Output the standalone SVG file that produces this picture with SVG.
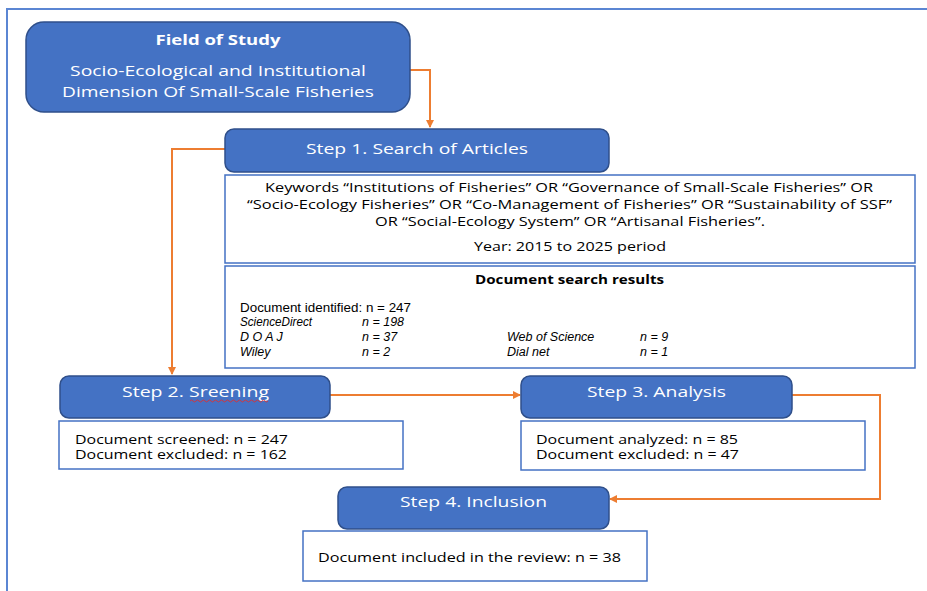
<svg xmlns="http://www.w3.org/2000/svg" width="927" height="591" viewBox="0 0 927 591">
<defs>
<marker id="ah" markerWidth="8" markerHeight="8" refX="7" refY="4" orient="auto" markerUnits="userSpaceOnUse">
<path d="M0,0 L8,4 L0,8 Z" fill="#ED7D31"/>
</marker>
<style>
.blue{fill:#4472C4;stroke:#2F4F8A;stroke-width:1.5}
.box{fill:#fff;stroke:#4472C4;stroke-width:1.5}
.wt{fill:#fff;font-family:"Open Sans","DejaVu Sans",sans-serif;font-size:15px;text-anchor:middle}
.bt{fill:#000;font-family:"Open Sans","DejaVu Sans",sans-serif;font-size:13px}
.it{fill:#000;font-family:"Liberation Sans",Arial,sans-serif;font-size:12.5px;font-style:italic}
.con{fill:none;stroke:#ED7D31;stroke-width:2}
</style>
</defs>
<rect width="927" height="591" fill="#fff"/>
<path d="M7,591 V9 H927" fill="none" stroke="#5B86D3" stroke-width="2"/>

<g id="connectors">
<path class="con" d="M410,70 H430 V127" marker-end="url(#ah)"/>
<path class="con" d="M225,149 H172 V374" marker-end="url(#ah)"/>
<path class="con" d="M330,395 H520" marker-end="url(#ah)"/>
<path class="con" d="M792,395 H880 V499 H610" marker-end="url(#ah)"/>
</g>

<g id="field">
<rect class="blue" x="26" y="22" width="384" height="90" rx="18"/>
<text class="wt" x="218" y="45" font-weight="bold" textLength="125" lengthAdjust="spacingAndGlyphs">Field of Study</text>
<text class="wt" x="218" y="76" textLength="296" lengthAdjust="spacingAndGlyphs">Socio-Ecological and Institutional</text>
<text class="wt" x="218" y="97" textLength="312" lengthAdjust="spacingAndGlyphs">Dimension Of Small-Scale Fisheries</text>
</g>

<g id="step1">
<rect class="blue" x="225" y="129" width="384" height="43" rx="9"/>
<text class="wt" x="417" y="154" textLength="222" lengthAdjust="spacingAndGlyphs">Step 1. Search of Articles</text>
</g>

<g id="keywords">
<rect class="box" x="225" y="175" width="690" height="88"/>
<text class="bt" x="569" y="192" text-anchor="middle" textLength="608" lengthAdjust="spacingAndGlyphs">Keywords “Institutions of Fisheries” OR “Governance of Small-Scale Fisheries” OR</text>
<text class="bt" x="569.5" y="209" text-anchor="middle" textLength="645" lengthAdjust="spacingAndGlyphs">“Socio-Ecology Fisheries” OR “Co-Management of Fisheries” OR “Sustainability of SSF”</text>
<text class="bt" x="570" y="226" text-anchor="middle" textLength="390" lengthAdjust="spacingAndGlyphs">OR “Social-Ecology System” OR “Artisanal Fisheries”.</text>
<text class="bt" x="570" y="251" text-anchor="middle" textLength="192" lengthAdjust="spacingAndGlyphs">Year: 2015 to 2025 period</text>
</g>

<g id="results">
<rect class="box" x="225" y="266" width="690" height="102" stroke="#7FA7DC"/>
<text class="bt" x="569.5" y="284" text-anchor="middle" font-weight="bold" textLength="189" lengthAdjust="spacingAndGlyphs">Document search results</text>
<text x="240" y="312" fill="#000" font-family="Liberation Sans, Arial, sans-serif" font-size="13" textLength="171" lengthAdjust="spacingAndGlyphs">Document identified: n = 247</text>
<text class="it" x="240" y="326" textLength="72" lengthAdjust="spacingAndGlyphs">ScienceDirect</text>
<text class="it" x="362" y="326">n = 198</text>
<text class="it" x="240" y="341">D O A J</text>
<text class="it" x="362" y="341">n = 37</text>
<text class="it" x="507" y="341">Web of Science</text>
<text class="it" x="640" y="341">n = 9</text>
<text class="it" x="240" y="356">Wiley</text>
<text class="it" x="362" y="356">n = 2</text>
<text class="it" x="507" y="356">Dial net</text>
<text class="it" x="640" y="356">n = 1</text>
</g>

<g id="step2">
<rect class="blue" x="60" y="376" width="270" height="42" rx="9"/>
<text class="wt" x="195.5" y="397" textLength="147" lengthAdjust="spacingAndGlyphs">Step 2. Sreening</text>
<path d="M190,401 q1.5,-2 3,0 t3,0 t3,0 t3,0 t3,0 t3,0 t3,0 t3,0 t3,0 t3,0 t3,0 t3,0 t3,0 t3,0 t3,0 t3,0 t3,0 t3,0 t3,0 t3,0 t3,0 t3,0 t3,0 t3,0 t3,0 t3,0" fill="none" stroke="#E03030" stroke-width="0.9"/>
</g>

<g id="screened">
<rect class="box" x="59" y="421" width="344" height="48"/>
<text class="bt" x="75" y="444" font-size="13" textLength="213" lengthAdjust="spacingAndGlyphs">Document screened: n = 247</text>
<text class="bt" x="75" y="459" font-size="13" textLength="212" lengthAdjust="spacingAndGlyphs">Document excluded: n = 162</text>
</g>

<g id="step3">
<rect class="blue" x="521" y="376" width="271" height="42" rx="9"/>
<text class="wt" x="656.5" y="397" textLength="139" lengthAdjust="spacingAndGlyphs">Step 3. Analysis</text>
</g>

<g id="analyzed">
<rect class="box" x="521" y="421" width="344" height="49"/>
<text class="bt" x="536" y="444" font-size="13" textLength="202" lengthAdjust="spacingAndGlyphs">Document analyzed: n = 85</text>
<text class="bt" x="536" y="459" font-size="13" textLength="203" lengthAdjust="spacingAndGlyphs">Document excluded: n = 47</text>
</g>

<g id="step4">
<rect class="blue" x="338" y="487" width="271" height="42" rx="9"/>
<text class="wt" x="473.5" y="507" textLength="147" lengthAdjust="spacingAndGlyphs">Step 4. Inclusion</text>
</g>

<g id="included">
<rect class="box" x="303" y="531" width="344" height="50"/>
<text class="bt" x="318" y="562" font-size="13.5" textLength="303" lengthAdjust="spacingAndGlyphs">Document included in the review: n = 38</text>
</g>
</svg>
